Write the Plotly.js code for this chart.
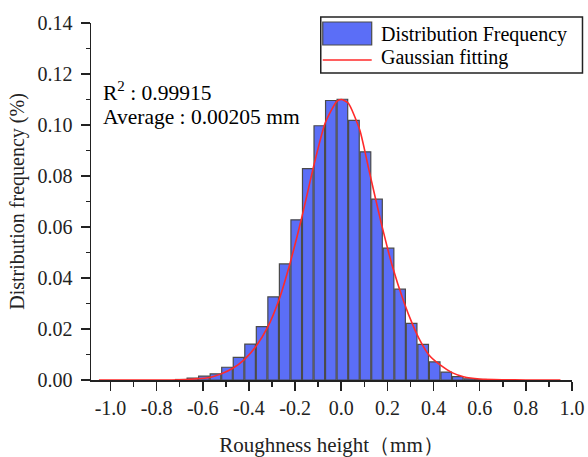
<!DOCTYPE html>
<html>
<head>
<meta charset="utf-8">
<script src="https://cdn.plot.ly/plotly-3.0.1.min.js"></script>
<style>html,body{margin:0;padding:0;background:#fff;}#chart{width:588px;height:457px;}</style>
</head>
<body>
<div id="chart"></div>
<script>
// Histogram bins (centers, mm) and frequencies
const binCenters = [-0.695, -0.645, -0.595, -0.545, -0.495, -0.445, -0.395, -0.345, -0.295, -0.245,
  -0.195, -0.145, -0.095, -0.045, 0.005, 0.055, 0.105, 0.155, 0.205, 0.255,
  0.305, 0.355, 0.405, 0.455, 0.505, 0.555, 0.605];
const binFreq = [0.0002, 0.0007, 0.0015, 0.0024, 0.0050, 0.0089, 0.0141, 0.0209, 0.0326, 0.0455,
  0.0628, 0.0829, 0.0997, 0.1096, 0.1101, 0.1018, 0.0895, 0.0709, 0.0517, 0.0356,
  0.0222, 0.0140, 0.0071, 0.0031, 0.0013, 0.0005, 0.0002];

// Gaussian fitting curve
const fitX = [-1.05, -0.9, -0.8, -0.7, -0.64, -0.57, -0.52, -0.47, -0.42, -0.37, -0.32, -0.27, -0.22,
  -0.17, -0.12, -0.07, -0.02, 0.0, 0.03, 0.08, 0.12, 0.17, 0.22, 0.27, 0.31, 0.34, 0.38, 0.43,
  0.48, 0.53, 0.6, 0.7, 0.8, 0.95];
const fitY = [0.0000, 0.0000, 0.0000, 0.0001, 0.0004, 0.0010, 0.0024, 0.0046, 0.0080, 0.0131, 0.0205,
  0.0314, 0.0464, 0.0641, 0.0837, 0.1007, 0.1092, 0.1100, 0.1086, 0.0981, 0.0824, 0.0628, 0.0451,
  0.0310, 0.0216, 0.0157, 0.0098, 0.0058, 0.0029, 0.0013, 0.0004, 0.0001, 0.0000, 0.0000];

const xTickVals = [-1.0, -0.8, -0.6, -0.4, -0.2, 0.0, 0.2, 0.4, 0.6, 0.8, 1.0];
const xTickText = ["-1.0", "-0.8", "-0.6", "-0.4", "-0.2", "0.0", "0.2", "0.4", "0.6", "0.8", "1.0"];
const xMinorVals = [-0.9, -0.7, -0.5, -0.3, -0.1, 0.1, 0.3, 0.5, 0.7, 0.9];
const yTickVals = [0, 0.02, 0.04, 0.06, 0.08, 0.10, 0.12, 0.14];
const yTickText = ["0.00", "0.02", "0.04", "0.06", "0.08", "0.10", "0.12", "0.14"];
const yMinorVals = [0.01, 0.03, 0.05, 0.07, 0.09, 0.11, 0.13];

const seriesNames = ["Distribution Frequency", "Gaussian fitting"];
const statLines = ["R<sup>2</sup> : 0.99915", "Average : 0.00205 mm"];

const FONT = "Liberation Serif, Times New Roman, serif";
const BAR_COLOR = "#5b6ef7";
const BAR_LINE = "#4a4a4a";
const FIT_COLOR = "#ff2a2a";
const AX = "#222222";

const traces = [
  {
    type: "bar", x: binCenters, y: binFreq, width: 0.046, name: seriesNames[0],
    marker: {color: BAR_COLOR, line: {color: BAR_LINE, width: 1.2}},
    showlegend: false, hoverinfo: "skip"
  },
  {
    type: "scatter", mode: "lines", x: fitX, y: fitY, name: seriesNames[1],
    line: {color: FIT_COLOR, width: 1.6, shape: "spline", smoothing: 0.6},
    showlegend: false, hoverinfo: "skip"
  }
];

// paper coords of plot area: x 91..572.5 px, y 23..380 px
const px = v => (v - 91) / 481.5;
const py = v => (380 - v) / 357;

const layout = {
  width: 588, height: 457,
  margin: {l: 91, r: 15.5, t: 23, b: 77, pad: 0},
  paper_bgcolor: "#ffffff", plot_bgcolor: "#ffffff",
  font: {family: FONT, size: 20, color: AX},
  showlegend: false,
  xaxis: {
    range: [-1.0844, 1.0], showgrid: false, zeroline: false,
    showline: true, linecolor: AX, linewidth: 1.5,
    ticks: "outside", ticklen: 9, tickwidth: 1.5, tickcolor: AX,
    tickmode: "array", tickvals: xTickVals, ticktext: xTickText,
    tickfont: {family: FONT, size: 20, color: AX},
    minor: {tickmode: "array", tickvals: xMinorVals, ticks: "outside", ticklen: 5, tickwidth: 1.5, tickcolor: AX, showgrid: false},
    title: {text: "Roughness height（mm）", font: {family: FONT, size: 21, color: AX}, standoff: 20}
  },
  yaxis: {
    range: [0, 0.14], showgrid: false, zeroline: false,
    showline: true, linecolor: AX, linewidth: 1.5,
    ticks: "outside", ticklen: 9, tickwidth: 1.5, tickcolor: AX,
    tickmode: "array", tickvals: yTickVals, ticktext: yTickText,
    tickfont: {family: FONT, size: 20, color: AX}, ticklabelstandoff: 4,
    minor: {tickmode: "array", tickvals: yMinorVals, ticks: "outside", ticklen: 4, tickwidth: 1.5, tickcolor: AX, showgrid: false},
    title: {text: "Distribution frequency (%)", font: {family: FONT, size: 20, color: AX}, standoff: 7}
  },
  bargap: 0,
  shapes: [
    {type: "rect", xref: "paper", yref: "paper", x0: px(321), x1: px(583), y0: py(73), y1: py(17),
     line: {color: AX, width: 1.5}, fillcolor: "#ffffff", layer: "above"},
    {type: "rect", xref: "paper", yref: "paper", x0: px(323), x1: px(372), y0: py(45), y1: py(22),
     line: {color: BAR_LINE, width: 1.2}, fillcolor: BAR_COLOR, layer: "above"},
    {type: "line", xref: "paper", yref: "paper", x0: px(323), x1: px(372), y0: py(60), y1: py(60),
     line: {color: FIT_COLOR, width: 1.6}, layer: "above"}
  ],
  annotations: [
    {xref: "paper", yref: "paper", x: px(379), y: py(34), xanchor: "left", yanchor: "middle",
     text: seriesNames[0], showarrow: false, font: {family: FONT, size: 20, color: "#000"}},
    {xref: "paper", yref: "paper", x: px(379), y: py(58), xanchor: "left", yanchor: "middle",
     text: seriesNames[1], showarrow: false, font: {family: FONT, size: 20, color: "#000"}},
    {xref: "paper", yref: "paper", x: px(101), y: py(91), xanchor: "left", yanchor: "middle",
     text: statLines[0], showarrow: false, font: {family: FONT, size: 21.5, color: "#000"}},
    {xref: "paper", yref: "paper", x: px(101), y: py(117), xanchor: "left", yanchor: "middle",
     text: statLines[1], showarrow: false, font: {family: FONT, size: 21.5, color: "#000"}}
  ]
};

Plotly.newPlot("chart", traces, layout, {displayModeBar: false, staticPlot: true});
</script>
</body>
</html>
